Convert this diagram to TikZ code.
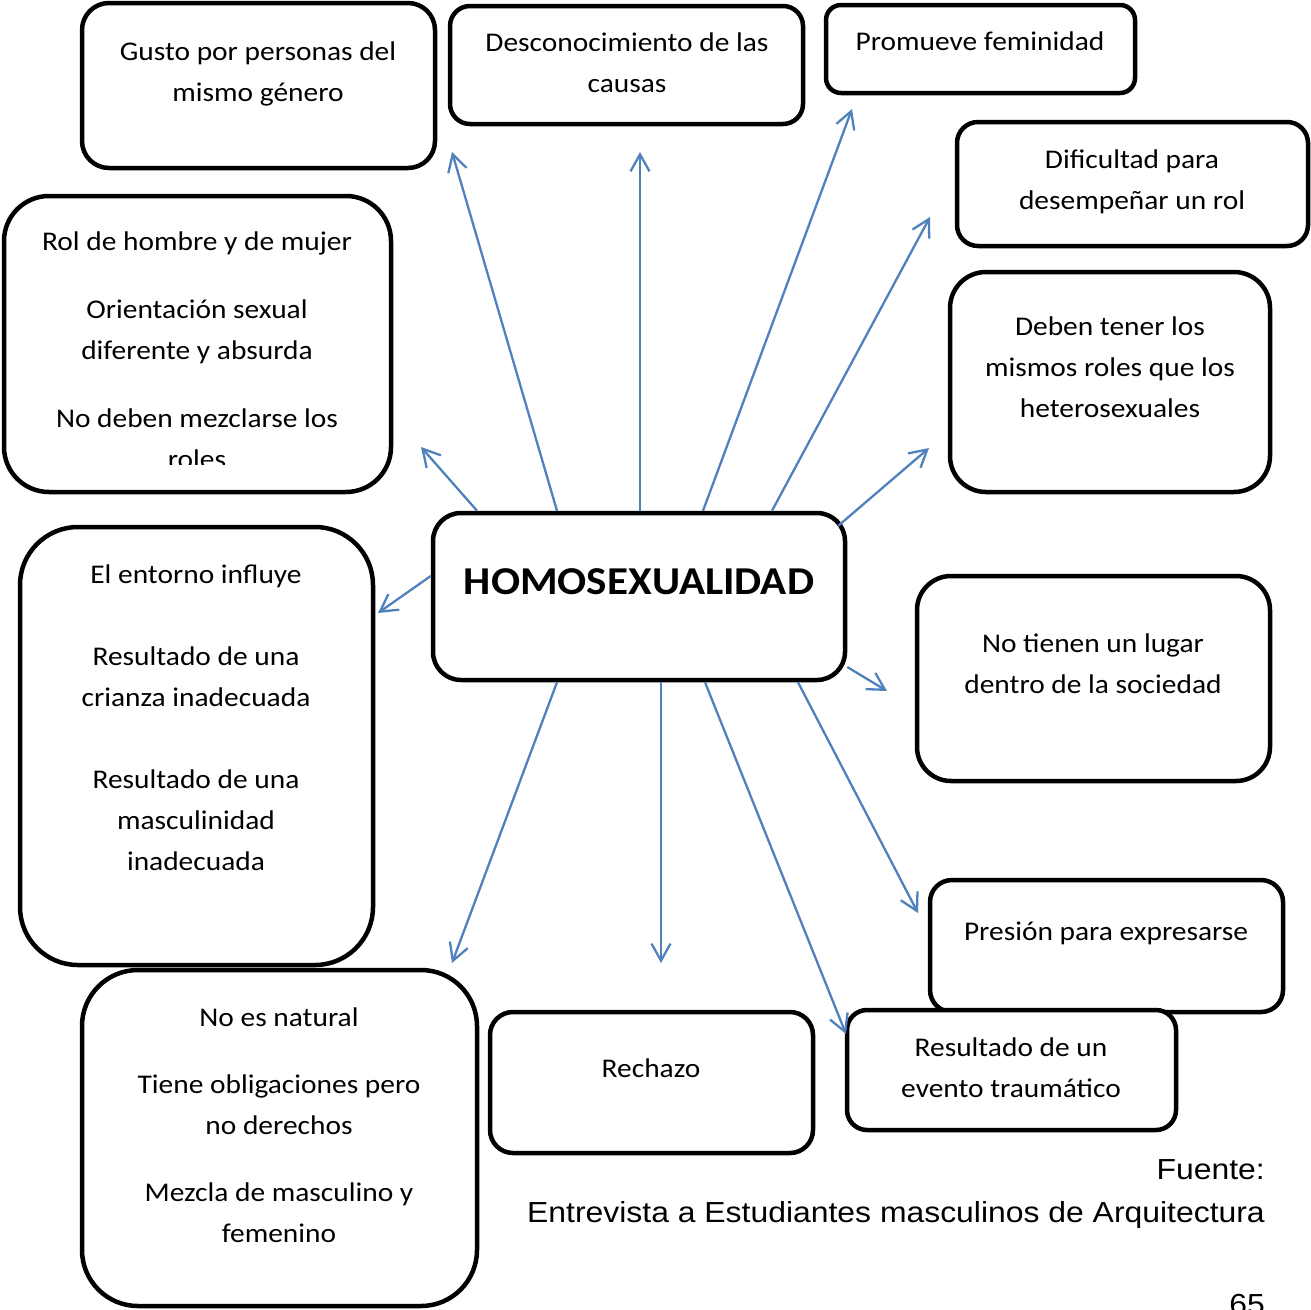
\documentclass[tikz,border=0pt]{standalone}
\usepackage{fontspec}
\setmainfont{Carlito}[FakeStretch=1.09]
\newfontfamily\arialfont{Liberation Sans}[FakeStretch=1.10]
\usetikzlibrary{arrows.meta}

\definecolor{linkblue}{HTML}{4F81BD}
\newcommand{\fst}{\rule{0pt}{20pt}}
\tikzset{
  card/.style={draw, line width=4.5pt, fill=white, inner sep=0pt},
  lbl/.style={anchor=north, align=center, inner sep=0pt, font=\fontsize{27}{41}\selectfont},
  src/.style={anchor=base east, inner sep=0pt, font=\arialfont\fontsize{29}{35}\selectfont},
  link/.style={draw, color=linkblue, line width=2.3pt, -{Straight Barb[length=17pt,width=19pt]}}
}

\begin{document}
\begin{tikzpicture}[x=1pt,y=-1pt]
  \useasboundingbox (0,0) rectangle (1311,1309);

  % boxes
  \node[card, rounded corners=27pt, minimum width=353pt, minimum height=165pt] (gusto) at (258.5,85.5) {};
  \node[card, rounded corners=20pt, minimum width=353pt, minimum height=118pt] (causas) at (626.5,65) {};
  \node[card, rounded corners=15pt, minimum width=309pt, minimum height=88pt] (fem) at (980.5,49) {};
  \node[card, rounded corners=21pt, minimum width=351pt, minimum height=124pt] (dif) at (1132.5,184) {};
  \node[card, rounded corners=45pt, minimum width=387pt, minimum height=296pt] (rol) at (197.5,344) {};
  \node[card, rounded corners=36pt, minimum width=320pt, minimum height=220pt] (deben) at (1110,382) {};
  \node[card, rounded corners=28pt, minimum width=412pt, minimum height=167pt] (hub) at (639,596.5) {};
  \node[card, rounded corners=58pt, minimum width=353pt, minimum height=438pt] (entorno) at (196.5,746) {};
  \node[card, rounded corners=34pt, minimum width=353pt, minimum height=205pt] (lugar) at (1093.5,678.5) {};
  \node[card, rounded corners=22pt, minimum width=353pt, minimum height=132pt] (presion) at (1106.5,946) {};
  \node[card, rounded corners=20pt, minimum width=329pt, minimum height=120pt] (trauma) at (1011.5,1070) {};
  \node[card, rounded corners=56pt, minimum width=395pt, minimum height=336pt] (natural) at (279.5,1138) {};
  \node[card, rounded corners=23pt, minimum width=323pt, minimum height=141pt] (rechazo) at (651.5,1082.5) {};

  % texts
  \node[lbl] (gustoTxt) at (258,40) {\fst Gusto por personas del\\mismo género};
  \node[lbl] (causasTxt) at (627,31) {\fst Desconocimiento de las\\causas};
  \node[lbl] (femTxt) at (980,30) {\fst Promueve feminidad};
  \node[lbl] (difTxt) at (1132,148) {\fst Dificultad para\\desempeñar un rol};
  \begin{scope}
    \clip (5,196) rectangle (390,464);
    \node[lbl] (rolTxt) at (197,230) {\fst Rol de hombre y de mujer\\[27pt]Orientación sexual\\diferente y absurda\\[27pt]No deben mezclarse los\\roles};
  \end{scope}
  \node[lbl] (debenTxt) at (1110,315) {\fst Deben tener los\\mismos roles que los\\heterosexuales};
  \node[anchor=base, inner sep=0pt, font=\bfseries\fontsize{39.5}{48}\selectfont] (hubTxt) at (639,594) {HOMOSEXUALIDAD};
  \node[lbl] (entornoTxt) at (196,563) {\fst El entorno influye\\[41pt]Resultado de una\\crianza inadecuada\\[41pt]Resultado de una\\masculinidad\\inadecuada};
  \node[lbl] (lugarTxt) at (1093,632) {\fst No tienen un lugar\\dentro de la sociedad};
  \node[lbl] (presionTxt) at (1106,920) {\fst Presión para expresarse};
  \node[lbl] (traumaTxt) at (1011,1036) {\fst Resultado de un\\evento traumático};
  \node[lbl] (naturalTxt) at (279,1006) {\fst No es natural\\[26pt]Tiene obligaciones pero\\no derechos\\[26pt]Mezcla de masculino y\\femenino};
  \node[lbl] (rechazoTxt) at (651,1057) {\fst Rechazo};

  % source
  \node[src] (fuente) at (1265,1179) {Fuente:};
  \node[src] (entrevista) at (1265,1222) {Entrevista a Estudiantes masculinos de Arquitectura};
  \node[src] (pagina) at (1265,1314) {65};

  % arrow tips
  \coordinate (tRol) at (421,447);
  \coordinate (tGusto) at (452,152);
  \coordinate (tCausas) at (640,152);
  \coordinate (tFem) at (852,109);
  \coordinate (tDif) at (930,217);
  \coordinate (tDeben) at (929,448);
  \coordinate (tEntorno) at (378,613);
  \coordinate (tLugar) at (887,691);
  \coordinate (tNatural) at (452,963);
  \coordinate (tRechazo) at (661,963);
  \coordinate (tTrauma) at (846,1034);
  \coordinate (tPresion) at (918,913);

  % arrows
  \path[link] (hub.north -| 477,0) -- (tRol);
  \path[link] (hub.north -| 557,0) -- (tGusto);
  \path[link] (hub.north -| 640,0) -- (tCausas);
  \path[link] (hub.north -| 703,0) -- (tFem);
  \path[link] (hub.north -| 772,0) -- (tDif);
  \path[link] ([xshift=-9pt,yshift=-15pt]hub.north east) -- (tDeben);
  \path[link] (hub.west |- 0,576) -- (tEntorno);
  \path[link] (hub.east |- 0,667) -- (tLugar);
  \path[link] (hub.south -| 557,0) -- (tNatural);
  \path[link] (hub.south -| 661,0) -- (tRechazo);
  \path[link] (hub.south -| 705,0) -- (tTrauma);
  \path[link] (hub.south -| 798,0) -- (tPresion);
\end{tikzpicture}
\end{document}
